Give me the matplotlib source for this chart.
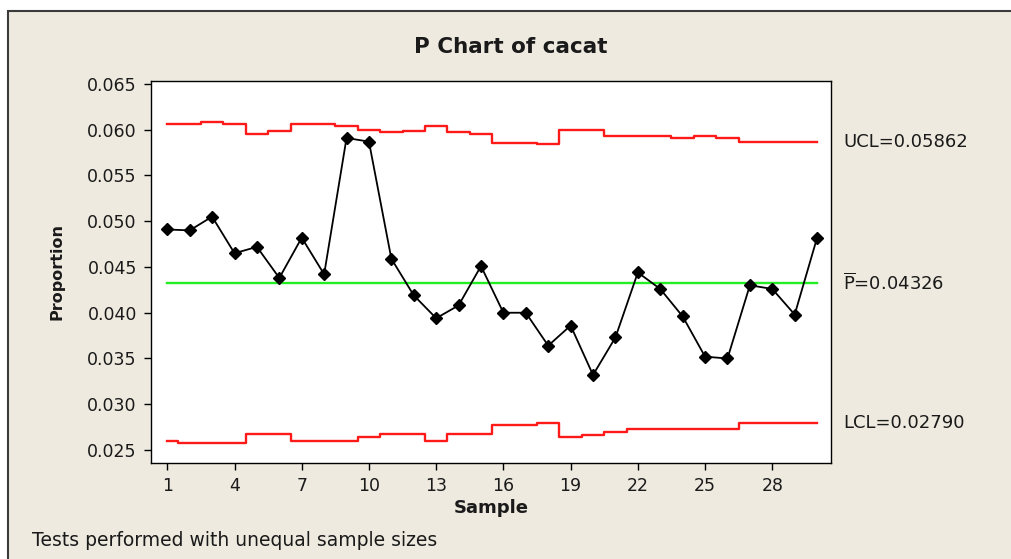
"""
P chart of cacat (Minitab style) with stepped control limits.
"""

import matplotlib
matplotlib.use("Agg")
import matplotlib.pyplot as plt
from matplotlib.patches import Rectangle

# data
samples = list(range(1, 31))
proportion = [
    0.0491, 0.0490, 0.0505, 0.0465, 0.0472, 0.0438, 0.0482, 0.0442, 0.0591, 0.0587,
    0.0459, 0.0419, 0.0394, 0.0408, 0.0451, 0.0400, 0.0400, 0.0364, 0.0386, 0.0332,
    0.0373, 0.0444, 0.0426, 0.0396, 0.0352, 0.0350, 0.0430, 0.0426, 0.0398, 0.0482,
]
ucl = [
    0.0606, 0.0606, 0.0608, 0.0606, 0.0595, 0.0599, 0.0606, 0.0606, 0.0604, 0.0600,
    0.0597, 0.0599, 0.0604, 0.0597, 0.0595, 0.0586, 0.0586, 0.0584, 0.0600, 0.0600,
    0.0593, 0.0593, 0.0593, 0.0591, 0.0593, 0.0591, 0.05862, 0.05862, 0.05862, 0.05862,
]
lcl = [
    0.0260, 0.0258, 0.0258, 0.0258, 0.0268, 0.0267, 0.0260, 0.0260, 0.0260, 0.0264,
    0.0267, 0.0267, 0.0260, 0.0267, 0.0268, 0.0277, 0.0277, 0.0280, 0.0264, 0.0266,
    0.0270, 0.0273, 0.0273, 0.0273, 0.0273, 0.0273, 0.0279, 0.0279, 0.0279, 0.0279,
]
p_bar = 0.04326
ucl_last = 0.05862
lcl_last = 0.02790
x_ticks = [1, 4, 7, 10, 13, 16, 19, 22, 25, 28]
y_ticks = [0.025, 0.030, 0.035, 0.040, 0.045, 0.050, 0.055, 0.060, 0.065]

plt.rcParams["font.family"] = "DejaVu Sans"
plt.rcParams["mathtext.fontset"] = "dejavusans"

BG = "#EEEADF"
TXT = "#1a1a1a"
W, H = 1011, 559

fig = plt.figure(figsize=(W / 100, H / 100), dpi=100, facecolor="white")
fig.add_artist(Rectangle((8 / W, -0.1), 1.1, 1 - 11 / H + 0.1, transform=fig.transFigure,
                         facecolor=BG, edgecolor="#3a3a3a", linewidth=1.5, zorder=-1))

ax = fig.add_axes([150.7 / W, 1 - 462.7 / H, (831 - 150.7) / W, (462.7 - 80.7) / H])
ax.set_facecolor("white")

ax.step(samples, ucl, where="mid", color="#ff1a1a", linewidth=1.7)
ax.step(samples, lcl, where="mid", color="#ff1a1a", linewidth=1.7)
ax.plot([samples[0], samples[-1]], [p_bar, p_bar], color="#22ee22", linewidth=1.7)
ax.plot(samples, proportion, color="black", linewidth=1.3, marker="D",
        markersize=6, markerfacecolor="black", markeredgecolor="black")

ax.set_xlim(0.26, 30.62)
ax.set_ylim(0.02361, 0.06536)
ax.set_xticks(x_ticks)
ax.set_yticks(y_ticks)
ax.set_yticklabels([f"{v:.3f}" for v in y_ticks])
ax.tick_params(direction="out", length=5, width=1, colors="black", pad=5,
               labelsize=12.5, labelcolor=TXT)
for sp in ax.spines.values():
    sp.set_color("black")
    sp.set_linewidth(1.0)

ax.set_xlabel("Sample", fontsize=13, fontweight="bold", color=TXT, labelpad=3)
ax.set_ylabel("Proportion", fontsize=11.5, fontweight="bold", color=TXT, labelpad=16)

lab_x = 1.0176
for val, txt in [(ucl_last, f"UCL={ucl_last:.5f}"),
                 (p_bar, r"$\overline{\mathrm{P}}$" + f"={p_bar:.5f}"),
                 (lcl_last, f"LCL={lcl_last:.5f}")]:
    ax.annotate(txt, xy=(lab_x, val), xycoords=("axes fraction", "data"),
                ha="left", va="center", fontsize=13, color=TXT, annotation_clip=False)

fig.text(511 / W, 1 - 47 / H, "P Chart of cacat", ha="center", va="center",
         fontsize=15.5, fontweight="bold", color=TXT)
fig.text(32 / W, 1 - 540 / H, "Tests performed with unequal sample sizes",
         ha="left", va="center", fontsize=13.5, color=TXT)

fig.savefig("out.png", dpi=100, facecolor=fig.get_facecolor())
